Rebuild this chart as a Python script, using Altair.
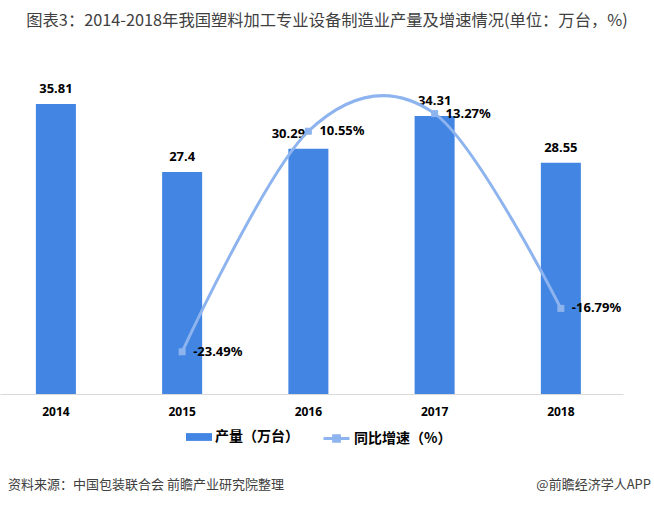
import altair as alt
import pandas as pd

years = ["2014", "2015", "2016", "2017", "2018"]
output = [35.81, 27.4, 30.29, 34.31, 28.55]
growth = [None, -23.49, 10.55, 13.27, -16.79]
series = ["产量（万台）", "同比增速（%）"]
title_text = "图表3：2014-2018年我国塑料加工专业设备制造业产量及增速情况(单位：万台，%)"
source_text = "资料来源：中国包装联合会 前瞻产业研究院整理"
brand_text = "@前瞻经济学人APP"

BAR = "#4285E3"
LINE = "#8DB4EE"
CJK = "Noto Sans CJK SC"
NUM = "Noto Sans"

df = pd.DataFrame({"year": years, "output": output, "growth": growth})

x = alt.X(
    "year:N",
    title=None,
    sort=years,
    scale=alt.Scale(paddingInner=0.683, paddingOuter=0.309, align=0.46),
    axis=alt.Axis(
        labelFont=NUM, labelFontWeight="bold", labelFontSize=12, labelColor="#000",
        labelPadding=12, ticks=False, domainColor="#D9D9D9", domainWidth=1,
        labelAngle=0, grid=False,
    ),
)

leg_common = dict(
    title=None, orient="none", direction="horizontal", symbolSize=676,
    labelFont=CJK, labelFontSize=14, labelFontWeight="bold", labelColor="#000",
    labelOffset=3, padding=0,
)
fill_enc = alt.Fill(
    "series:N", scale=alt.Scale(domain=[series[0]], range=[BAR]),
    legend=alt.Legend(legendX=186, legendY=354, symbolType="M-1,-0.3H1V0.3H-1Z",
                      symbolStrokeWidth=0, **leg_common),
)
stroke_enc = alt.Stroke(
    "series:N", scale=alt.Scale(domain=[series[1]], range=[LINE]),
    legend=alt.Legend(legendX=322, legendY=354,
                      symbolType="M-1,0H1M-0.22,-0.22H0.22V0.22H-0.22Z",
                      symbolFillColor=LINE, symbolStrokeWidth=3, **leg_common),
)

base = alt.Chart(df)
ybar = alt.Y("output:Q", scale=alt.Scale(domain=[0, 40]), axis=None)
yline = alt.Y("growth:Q", scale=alt.Scale(domain=[-30, 20]), axis=None)

bars = base.transform_calculate(series=f"'{series[0]}'").mark_bar().encode(
    x=x, y=ybar, fill=fill_enc
)
bar_labels = base.transform_filter("datum.year !== '2016'").mark_text(
    font=NUM, fontWeight="bold", fontSize=13, color="#000", baseline="middle", dy=-15
).encode(x=x, y=ybar, text=alt.Text("output:Q"))
bar_label16 = base.transform_filter("datum.year === '2016'").mark_text(
    font=NUM, fontWeight="bold", fontSize=13, color="#000", baseline="middle", dy=-15, dx=-20
).encode(x=x, y=ybar, text=alt.Text("output:Q"))

gbase = base.transform_filter("datum.growth != null")
line = gbase.transform_calculate(series=f"'{series[1]}'").mark_line(
    interpolate="cardinal", strokeWidth=3
).encode(x=x, y=yline, stroke=stroke_enc)
pts = gbase.mark_square(size=49, color=LINE, opacity=1).encode(x=x, y=yline)
line_labels = gbase.transform_calculate(
    lab="replace(format(datum.growth, '.2f'), '\u2212', '-') + '%'"
).mark_text(
    font=NUM, fontWeight="bold", fontSize=13, color="#000", align="left",
    baseline="middle", dx=11
).encode(x=x, y=yline, text="lab:N")

one = pd.DataFrame({"t": [title_text], "s": [source_text], "b": [brand_text]})
title = alt.Chart(one).mark_text(
    font=CJK, fontSize=16.3, color="#404040", align="center", baseline="middle"
).encode(x=alt.value(327), y=alt.value(-49), text="t:N")
source = alt.Chart(one).mark_text(
    font=CJK, fontSize=13, color="#404040", align="left", baseline="middle"
).encode(x=alt.value(8), y=alt.value(415), text="s:N")
brand = alt.Chart(one).mark_text(
    font=CJK, fontSize=13, color="#404040", align="right", baseline="middle"
).encode(x=alt.value(651), y=alt.value(415), text="b:N")

chart = alt.layer(
    alt.layer(bars, bar_labels, bar_label16),
    alt.layer(line, pts, line_labels),
    title, source, brand,
).resolve_scale(y="independent").properties(
    width=623, height=324,
    padding={"left": 0, "top": 70, "right": 31, "bottom": 111},
    autosize=alt.AutoSizeParams(type="none"),
    background="white",
).configure_view(stroke=None)

chart.save("out.html", embed_options={"renderer": "svg", "actions": False})
